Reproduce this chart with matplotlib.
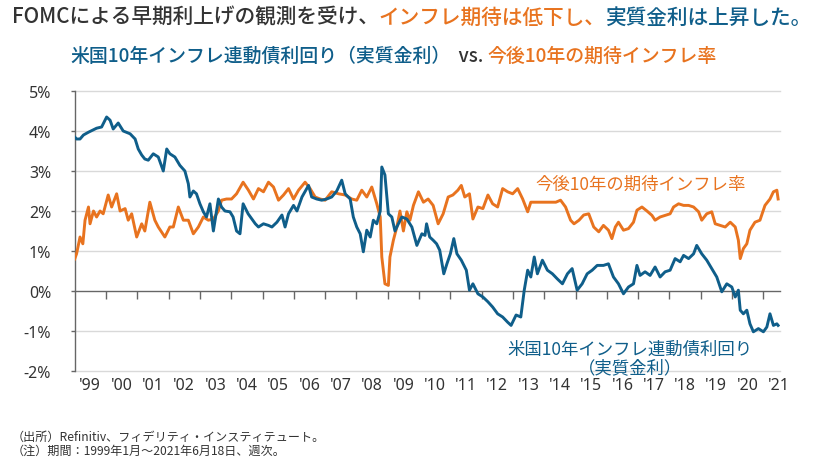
import matplotlib
matplotlib.use("Agg")
import matplotlib.pyplot as plt

plt.rcParams['font.family'] = ['Noto Sans CJK JP', 'DejaVu Sans']

# ---------------- data ----------------
real_t = [1999.00, 1999.06, 1999.17, 1999.28, 1999.44, 1999.70, 1999.86, 2000.02, 2000.13, 2000.23,
          2000.39, 2000.55, 2000.77, 2000.93, 2001.03, 2001.14, 2001.24, 2001.35, 2001.51, 2001.67,
          2001.83, 2001.94, 2002.04, 2002.20, 2002.36, 2002.52, 2002.63, 2002.68, 2002.79, 2002.89,
          2003.00, 2003.11, 2003.21, 2003.32, 2003.43, 2003.59, 2003.69, 2003.80, 2003.96, 2004.06,
          2004.17, 2004.28, 2004.38, 2004.54, 2004.66, 2004.77, 2004.87, 2005.03, 2005.19, 2005.30,
          2005.46, 2005.62, 2005.72, 2005.83, 2005.99, 2006.10, 2006.26, 2006.47, 2006.57, 2006.73,
          2006.89, 2007.05, 2007.21, 2007.37, 2007.53, 2007.64, 2007.80, 2007.90, 2008.01, 2008.12,
          2008.22, 2008.33, 2008.44, 2008.54, 2008.65, 2008.76, 2008.81, 2008.91, 2009.02, 2009.13,
          2009.23, 2009.34, 2009.45, 2009.61, 2009.77, 2009.93, 2010.09, 2010.19, 2010.24, 2010.34,
          2010.45, 2010.56, 2010.66, 2010.79, 2010.89, 2011.00, 2011.11, 2011.21, 2011.35, 2011.51,
          2011.61, 2011.72, 2011.88, 2012.04, 2012.20, 2012.35, 2012.51, 2012.67, 2012.83, 2012.94,
          2013.10, 2013.25, 2013.36, 2013.47, 2013.57, 2013.68, 2013.78, 2013.94, 2014.10, 2014.26,
          2014.42, 2014.58, 2014.74, 2014.89, 2015.05, 2015.21, 2015.37, 2015.53, 2015.69, 2015.89,
          2016.05, 2016.21, 2016.37, 2016.53, 2016.69, 2016.85, 2016.96, 2017.06, 2017.22, 2017.38,
          2017.54, 2017.70, 2017.86, 2018.02, 2018.18, 2018.34, 2018.45, 2018.61, 2018.77, 2018.87,
          2019.03, 2019.19, 2019.35, 2019.51, 2019.67, 2019.83, 2019.99, 2020.10, 2020.20, 2020.26,
          2020.36, 2020.47, 2020.57, 2020.68, 2020.84, 2021.00, 2021.11, 2021.21, 2021.32, 2021.43,
          2021.47]
real_v = [3.85, 3.80, 3.80, 3.90, 3.97, 4.07, 4.10, 4.35, 4.27, 4.05,
          4.20, 4.00, 3.93, 3.80, 3.55, 3.40, 3.30, 3.27, 3.43, 3.35,
          3.00, 3.55, 3.43, 3.35, 3.14, 3.00, 2.68, 2.35, 2.50, 2.43,
          2.18, 1.98, 1.85, 2.18, 1.50, 2.30, 2.10, 2.00, 1.98, 1.85,
          1.50, 1.43, 2.18, 1.93, 1.80, 1.68, 1.60, 1.68, 1.64, 1.60,
          1.72, 1.90, 1.60, 1.93, 2.14, 2.00, 2.35, 2.64, 2.35, 2.30,
          2.27, 2.30, 2.35, 2.50, 2.77, 2.43, 2.30, 1.85, 1.60, 1.43,
          0.98, 1.52, 1.35, 1.77, 1.68, 2.00, 3.10, 2.90, 1.93, 1.85,
          1.50, 1.68, 1.85, 1.80, 1.60, 1.14, 1.43, 1.39, 1.68, 1.35,
          1.27, 1.18, 1.02, 0.43, 0.68, 0.93, 1.31, 0.93, 0.77, 0.52,
          0.02, 0.18, -0.07, -0.15, -0.27, -0.40, -0.57, -0.65, -0.78, -0.86,
          -0.60, -0.65, 0.02, 0.52, 0.35, 0.85, 0.43, 0.77, 0.52, 0.43,
          0.30, 0.18, 0.43, 0.56, 0.02, 0.18, 0.43, 0.52, 0.64, 0.64,
          0.68, 0.35, 0.18, -0.07, 0.10, 0.18, 0.64, 0.39, 0.48, 0.39,
          0.60, 0.35, 0.48, 0.52, 0.81, 0.73, 0.89, 0.81, 0.93, 1.14,
          0.93, 0.77, 0.56, 0.35, -0.02, 0.18, 0.10, -0.15, 0.02, -0.48,
          -0.57, -0.48, -0.82, -1.02, -0.94, -1.02, -0.90, -0.57, -0.86, -0.82,
          -0.86]

bei_t = [1999.00, 1999.06, 1999.17, 1999.26, 1999.33, 1999.44, 1999.49, 1999.60, 1999.70, 1999.81,
         1999.91, 2000.07, 2000.18, 2000.34, 2000.45, 2000.61, 2000.71, 2000.82, 2000.98, 2001.14,
         2001.24, 2001.40, 2001.56, 2001.67, 2001.88, 2002.04, 2002.15, 2002.31, 2002.47, 2002.63,
         2002.79, 2002.95, 2003.11, 2003.27, 2003.43, 2003.59, 2003.69, 2003.85, 2004.01, 2004.17,
         2004.38, 2004.55, 2004.71, 2004.87, 2005.03, 2005.19, 2005.35, 2005.51, 2005.67, 2005.83,
         2005.99, 2006.15, 2006.36, 2006.52, 2006.68, 2006.84, 2007.00, 2007.21, 2007.43, 2007.64,
         2007.85, 2008.01, 2008.17, 2008.33, 2008.49, 2008.65, 2008.76, 2008.81, 2008.91, 2009.02,
         2009.07, 2009.18, 2009.29, 2009.39, 2009.50, 2009.61, 2009.71, 2009.82, 2009.98, 2010.14,
         2010.29, 2010.45, 2010.61, 2010.77, 2010.93, 2011.08, 2011.24, 2011.35, 2011.46, 2011.61,
         2011.72, 2011.88, 2012.04, 2012.20, 2012.35, 2012.51, 2012.67, 2012.83, 2012.99, 2013.15,
         2013.31, 2013.47, 2013.57, 2013.73, 2013.89, 2014.05, 2014.21, 2014.37, 2014.52, 2014.68,
         2014.84, 2014.95, 2015.11, 2015.26, 2015.42, 2015.58, 2015.74, 2015.89, 2016.05, 2016.16,
         2016.27, 2016.37, 2016.53, 2016.69, 2016.85, 2016.96, 2017.12, 2017.28, 2017.44, 2017.54,
         2017.70, 2017.86, 2018.02, 2018.13, 2018.29, 2018.45, 2018.61, 2018.77, 2018.93, 2019.03,
         2019.19, 2019.35, 2019.46, 2019.62, 2019.78, 2019.94, 2020.10, 2020.20, 2020.26, 2020.36,
         2020.47, 2020.57, 2020.73, 2020.89, 2021.05, 2021.21, 2021.32, 2021.43, 2021.47]
bei_v = [0.80, 0.93, 1.35, 1.18, 1.77, 2.10, 1.68, 2.00, 1.85, 2.00,
         1.93, 2.40, 2.10, 2.43, 2.00, 2.06, 1.77, 1.93, 1.35, 1.68,
         1.50, 2.22, 1.77, 1.60, 1.35, 1.60, 1.60, 2.10, 1.77, 1.77,
         1.43, 1.60, 1.85, 1.77, 1.80, 2.00, 2.27, 2.30, 2.30, 2.43,
         2.72, 2.52, 2.30, 2.56, 2.48, 2.72, 2.60, 2.27, 2.40, 2.56,
         2.30, 2.52, 2.72, 2.56, 2.35, 2.30, 2.27, 2.48, 2.43, 2.40,
         2.30, 2.27, 2.52, 2.35, 2.60, 2.18, 1.85, 0.85, 0.18, 0.14,
         0.85, 1.27, 1.60, 2.00, 1.50, 1.98, 1.77, 2.14, 2.48, 2.22,
         2.30, 2.14, 1.68, 1.93, 2.35, 2.40, 2.52, 2.64, 2.35, 2.43,
         1.80, 2.10, 2.06, 2.40, 2.18, 2.10, 2.56, 2.48, 2.43, 2.56,
         2.30, 1.98, 2.22, 2.22, 2.22, 2.22, 2.22, 2.22, 2.27, 2.10,
         1.77, 1.68, 1.77, 1.90, 1.93, 1.60, 1.48, 1.64, 1.52, 1.31,
         1.60, 1.72, 1.52, 1.56, 1.72, 2.02, 2.10, 2.00, 1.89, 1.77,
         1.85, 1.89, 1.93, 2.10, 2.18, 2.14, 2.14, 2.10, 1.98, 1.77,
         1.93, 1.98, 1.68, 1.64, 1.60, 1.72, 1.60, 1.27, 0.81, 1.06,
         1.18, 1.52, 1.72, 1.77, 2.14, 2.30, 2.48, 2.52, 2.30]

years = list(range(1999, 2022))
year_labels = ["'99", "'00", "'01", "'02", "'03", "'04", "'05", "'06", "'07", "'08", "'09",
               "'10", "'11", "'12", "'13", "'14", "'15", "'16", "'17", "'18", "'19", "'20", "'21"]
y_ticks = [-2, -1, 0, 1, 2, 3, 4, 5]
y_labels = ["-2%", "-1%", "0%", "1%", "2%", "3%", "4%", "5%"]

title_parts = ["FOMCによる早期利上げの観測を受け、", "インフレ期待は低下し、", "実質金利は上昇した。"]
subtitle_parts = ["米国10年インフレ連動債利回り（実質金利）", "  vs. ", "今後10年の期待インフレ率"]
label_bei = "今後10年の期待インフレ率"
label_real = "米国10年インフレ連動債利回り\n（実質金利）"
notes = ["（出所）Refinitiv、フィデリティ・インスティテュート。",
         "（注）期間：1999年1月～2021年6月18日、週次。"]

# ---------------- style ----------------
BLUE = "#0f5e8a"
ORANGE = "#e8731f"
DARK = "#333333"
GRID = "#d9d9d9"
AXIS = "#666666"
TICKFONT = ['Noto Sans', 'DejaVu Sans']

fig = plt.figure(figsize=(8.25, 4.64), dpi=100)
ax = fig.add_axes([74.7 / 825, (464 - 372) / 464, (780 - 74.7) / 825, 280 / 464])

ax.plot(bei_t, bei_v, color=ORANGE, lw=2.1, solid_joinstyle='round', zorder=3)
ax.plot(real_t, real_v, color=BLUE, lw=2.1, solid_joinstyle='round', zorder=4)

ax.set_xlim(1999.0, 2021.53)
ax.set_ylim(-2, 5)

for v in y_ticks:
    if v != 0:
        ax.axhline(v, color=GRID, lw=1.0, zorder=1, clip_on=False)

for s in ['right', 'bottom']:
    ax.spines[s].set_visible(False)
ax.spines['left'].set_color(AXIS)
ax.spines['left'].set_linewidth(1.0)
ax.spines['top'].set_position(('data', 0))
ax.spines['top'].set_color(AXIS)
ax.spines['top'].set_linewidth(1.0)
ax.spines['top'].set_zorder(2)

ax.set_yticks(y_ticks)
ax.set_yticklabels(y_labels, fontfamily=TICKFONT)
ax.tick_params(axis='y', direction='out', length=3, width=1, color=AXIS,
               labelsize=11.5, labelcolor=DARK, pad=14)

ax.set_xticks(years[1:])
ax.set_xticks([y + 0.5 for y in years], minor=True)
ax.set_xticklabels(year_labels, minor=True, fontfamily=TICKFONT)
ax.tick_params(axis='x', which='major', top=True, bottom=False, direction='in',
               length=6, width=1, color=AXIS, labeltop=False, labelbottom=False)
ax.tick_params(axis='x', which='minor', top=False, bottom=True, length=0,
               labelbottom=True, labelsize=11.5, labelcolor=DARK, pad=4)

# in-chart labels
ax.text(2017.09, 2.68, label_bei, color=ORANGE, fontsize=12.5, ha='center', va='center')
ax.text(2016.75, -1.68, label_real, color=BLUE, fontsize=12.5, ha='center', va='center',
        linespacing=1.05)

# title & subtitle (multi-coloured)
TS = 14.9
t1 = fig.text(12 / 825, 1 - 29 / 464, title_parts[0], color=DARK, fontsize=TS,
              fontweight='medium', ha='left', va='bottom')
t2 = ax.annotate(title_parts[1], xy=(1, 0), xycoords=t1, color=ORANGE, fontsize=TS,
                 fontweight='medium', ha='left', va='bottom', annotation_clip=False)
ax.annotate(title_parts[2], xy=(1, 0), xycoords=t2, color=BLUE, fontsize=TS,
            fontweight='medium', ha='left', va='bottom', annotation_clip=False)

SS = 13.6
s1 = fig.text(70 / 825, 1 - 66 / 464, subtitle_parts[0], color=BLUE, fontsize=SS,
              fontweight='medium', ha='left', va='bottom')
s2 = ax.annotate(subtitle_parts[1], xy=(1, 0), xycoords=s1, color=DARK, fontsize=SS,
                 fontweight='medium', ha='left', va='bottom', annotation_clip=False)
ax.annotate(subtitle_parts[2], xy=(1, 0), xycoords=s2, color=ORANGE, fontsize=SS,
            fontweight='medium', ha='left', va='bottom', annotation_clip=False)

fig.text(12 / 825, 1 - 437 / 464, notes[0], color=DARK, fontsize=8.7, ha='left', va='center')
fig.text(12 / 825, 1 - 451 / 464, notes[1], color=DARK, fontsize=8.7, ha='left', va='center')

fig.savefig("out.png", dpi=100)
